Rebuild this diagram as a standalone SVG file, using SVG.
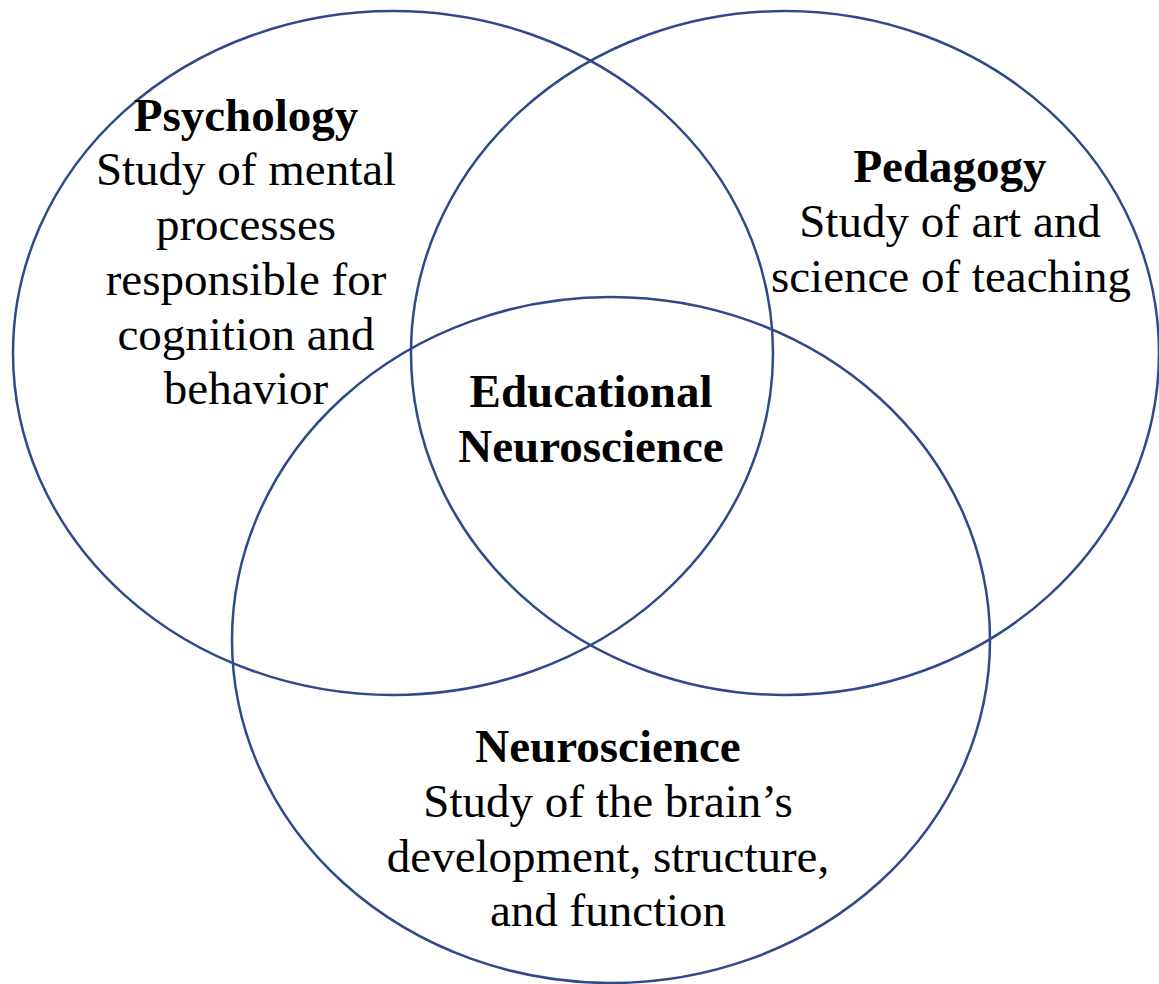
<svg xmlns="http://www.w3.org/2000/svg" width="1159" height="984" viewBox="0 0 1159 984">
<style>
.c{fill:none;stroke:#2f4a8a;stroke-width:2.5}
text{font-family:"Liberation Serif","Times New Roman",serif;font-size:47px;fill:#000;text-anchor:middle}
.b{font-weight:bold}
</style>
<rect width="1159" height="984" fill="#fff"/>
<g id="psychology">
<ellipse class="c" cx="393" cy="353" rx="380" ry="342"/>
<text class="b" x="246" y="131">Psychology</text>
<text x="246" y="185">Study of mental</text>
<text x="246" y="240">processes</text>
<text x="246" y="295">responsible for</text>
<text x="246" y="350">cognition and</text>
<text x="246" y="404">behavior</text>
</g>
<g id="pedagogy">
<ellipse class="c" cx="785" cy="353" rx="374" ry="342"/>
<text class="b" x="950" y="182">Pedagogy</text>
<text x="950" y="237">Study of art and</text>
<text x="951" y="292">science of teaching</text>
</g>
<g id="neuroscience">
<ellipse class="c" cx="611" cy="640" rx="379" ry="343"/>
<text class="b" x="608" y="762">Neuroscience</text>
<text x="608" y="817">Study of the brain’s</text>
<text x="608" y="872">development, structure,</text>
<text x="608" y="926">and function</text>
</g>
<g id="educational-neuroscience">
<text class="b" x="591" y="407">Educational</text>
<text class="b" x="591" y="462">Neuroscience</text>
</g>
<g id="connectors"></g>
</svg>
